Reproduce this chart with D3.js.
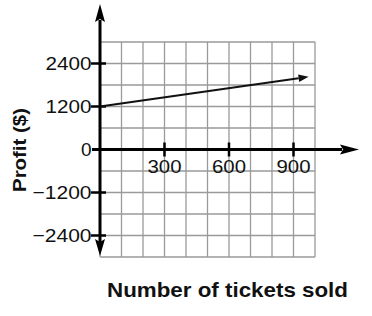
<!DOCTYPE html>
<html>
<head>
<meta charset="utf-8">
<script src="https://cdn.jsdelivr.net/npm/d3@7"></script>
<style>
  body { margin: 0; background: #fff; }
  text { font-family: "Liberation Sans", Arial, sans-serif; fill: #111; }
</style>
</head>
<body>
<div id="chart"></div>
<script>
var width = 372;
var height = 316;

// data
var ticketsSold = [0, 970];
var profit = [1200, 2030];
var xTickValues = [300, 600, 900];
var xTickLabels = ["300", "600", "900"];
var yTickValues = [2400, 1200, 0, -1200, -2400];
var yTickLabels = ["2400", "1200", "0", "\u22121200", "\u22122400"];
var xGridStep = 100;
var yGridStep = 600;

var svg = d3.select("#chart").append("svg")
	.attr("width", width)
	.attr("height", height);

var x = d3.scaleLinear()
	.domain([0, 1000])
	.range([100, 315]);

var y = d3.scaleLinear()
	.domain([-3000, 3000])
	.range([257, 42]);

// grid
var grid = svg.append("g").attr("stroke", "#9a9a9a").attr("stroke-width", 1.3);
grid.selectAll("line.v")
	.data(d3.range(0, 1000 + 1, xGridStep))
	.enter().append("line")
	.attr("x1", function(d) { return x(d); })
	.attr("x2", function(d) { return x(d); })
	.attr("y1", y(3000))
	.attr("y2", y(-3000));
grid.selectAll("line.h")
	.data(d3.range(-3000, 3000 + 1, yGridStep))
	.enter().append("line")
	.attr("x1", x(0))
	.attr("x2", x(1000))
	.attr("y1", function(d) { return y(d); })
	.attr("y2", function(d) { return y(d); });

// axes
var x0 = x(0), y0 = y(0);
var axes = svg.append("g");
axes.append("line")
	.attr("x1", 92).attr("x2", 342)
	.attr("y1", y0).attr("y2", y0)
	.attr("stroke", "#000").attr("stroke-width", 3);
axes.append("line")
	.attr("x1", x0).attr("x2", x0)
	.attr("y1", 20).attr("y2", 242)
	.attr("stroke", "#000").attr("stroke-width", 3);
// arrowheads
axes.append("path")
	.attr("d", "M" + 359 + "," + y0 + "L" + 340 + "," + (y0 - 5) + "L" + 343 + "," + y0 + "L" + 340 + "," + (y0 + 5) + "Z")
	.attr("fill", "#000");
axes.append("path")
	.attr("d", "M" + x0 + ",4L" + (x0 - 5) + ",22L" + x0 + ",19L" + (x0 + 5) + ",22Z")
	.attr("fill", "#000");
axes.append("path")
	.attr("d", "M" + x0 + ",256L" + (x0 - 5) + ",239L" + x0 + ",242L" + (x0 + 5) + ",239Z")
	.attr("fill", "#000");

// y ticks and labels
yTickValues.forEach(function(v, i) {
	if (v !== 0) {
		axes.append("line")
			.attr("x1", 91).attr("x2", 106)
			.attr("y1", y(v)).attr("y2", y(v))
			.attr("stroke", "#000").attr("stroke-width", 2.5);
	}
	var t = axes.append("text")
		.attr("x", 91.5)
		.attr("y", y(v) + 6.5)
		.attr("text-anchor", "end")
		.style("font-size", "19px")
		.text(yTickLabels[i]);
	var len = yTickLabels[i].length;
	if (len > 1) t.attr("textLength", len === 4 ? 46 : 59).attr("lengthAdjust", "spacingAndGlyphs");
});

// x ticks and labels
xTickValues.forEach(function(v, i) {
	axes.append("line")
		.attr("x1", x(v)).attr("x2", x(v))
		.attr("y1", y0 - 7).attr("y2", y0 + 7)
		.attr("stroke", "#000").attr("stroke-width", 2.5);
	axes.append("text")
		.attr("x", x(v))
		.attr("y", 172.5)
		.attr("text-anchor", "middle")
		.attr("textLength", 34)
		.attr("lengthAdjust", "spacingAndGlyphs")
		.style("font-size", "19px")
		.text(xTickLabels[i]);
});

// profit line with arrow
var pts = ticketsSold.map(function(t, i) { return [x(t), y(profit[i])]; });
var last = pts[pts.length - 1], prev = pts[pts.length - 2];
var ang = Math.atan2(last[1] - prev[1], last[0] - prev[0]);
var headLen = 10, headW = 3.8;
var base = [last[0] - headLen * Math.cos(ang), last[1] - headLen * Math.sin(ang)];
svg.append("path")
	.datum(pts.slice(0, -1).concat([base]))
	.attr("d", d3.line())
	.attr("fill", "none")
	.attr("stroke", "#111")
	.attr("stroke-width", 2);
svg.append("path")
	.attr("d", "M" + last[0] + "," + last[1] +
		"L" + (base[0] + headW * Math.sin(ang)) + "," + (base[1] - headW * Math.cos(ang)) +
		"L" + (base[0] - headW * Math.sin(ang)) + "," + (base[1] + headW * Math.cos(ang)) + "Z")
	.attr("fill", "#111");

// axis titles
svg.append("text")
	.attr("x", 107)
	.attr("y", 297)
	.attr("textLength", 241)
	.attr("lengthAdjust", "spacingAndGlyphs")
	.style("font-size", "21px")
	.style("font-weight", "bold")
	.text("Number of tickets sold");

svg.append("text")
	.attr("transform", "translate(26,150) rotate(-90)")
	.attr("text-anchor", "middle")
	.attr("textLength", 84)
	.attr("lengthAdjust", "spacingAndGlyphs")
	.style("font-size", "19px")
	.style("font-weight", "bold")
	.text("Profit ($)");
</script>
</body>
</html>
